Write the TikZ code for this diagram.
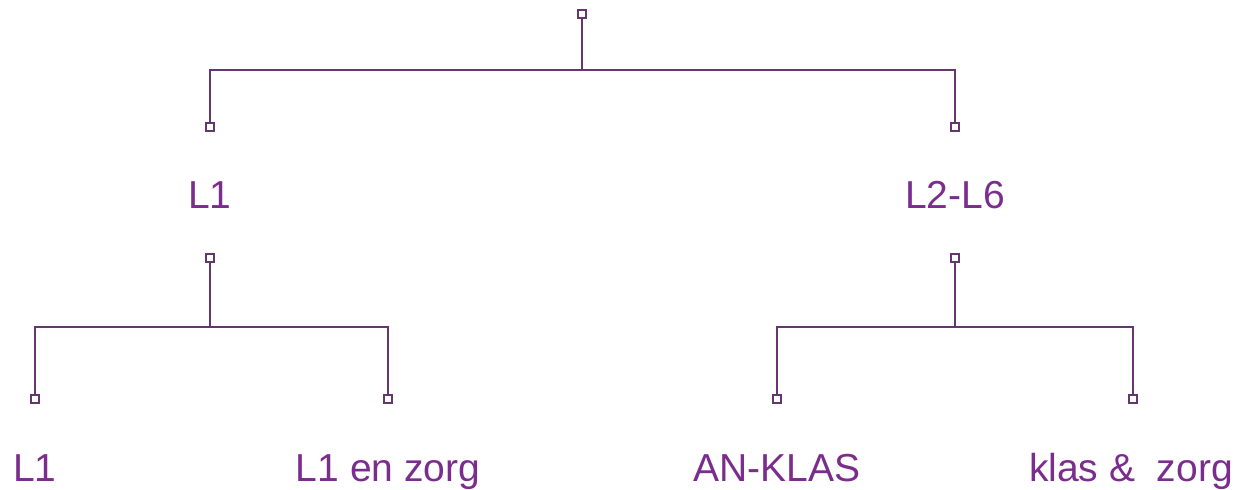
\documentclass[tikz,border=0pt]{standalone}
\usepackage{fontspec}
\setmainfont{Liberation Sans}
\definecolor{linecol}{HTML}{64386F}
\definecolor{textcol}{HTML}{7A2D8C}
\begin{document}
\begin{tikzpicture}[x=0.5pt,y=-0.5pt,
  pin/.style={draw=linecol,fill=white,line width=0.9pt,rectangle,minimum size=3.8pt,inner sep=0pt},
  lbl/.style={text=textcol,font=\fontsize{19.5}{22}\selectfont,inner sep=0pt,anchor=base},
  conn/.style={draw=linecol,line width=1.2pt}]
\useasboundingbox (0,0) rectangle (1239,489);
% pins
\node[pin] (s0) at (582,14) {};
\node[pin] (sL) at (210,127) {};
\node[pin] (sR) at (955,127) {};
\node[pin] (tL) at (210,258) {};
\node[pin] (tR) at (955,258) {};
\node[pin] (a1) at (35,399) {};
\node[pin] (a2) at (388,399) {};
\node[pin] (b1) at (777,399) {};
\node[pin] (b2) at (1133,399) {};
% junctions
\coordinate (j0) at (582,70);
\coordinate (jL) at (210,327);
\coordinate (jR) at (955,327);
% labels
\node[lbl] (L1) at (210,208) {L1};
\node[lbl] (L26) at (955,208) {L2-L6};
\node[lbl] (n1) at (35,481) {L1};
\node[lbl] (n2) at (388,481) {L1 en zorg};
\node[lbl] (n3) at (777,481) {AN-KLAS};
\node[lbl] (n4) at (1131,481) {klas \&~ zorg};
% connectors
\draw[conn] (s0.south) -- (j0);
\draw[conn] (sL.north) |- (j0) -| (sR.north);
\draw[conn] (tL.south) -- (jL);
\draw[conn] (a1.north) |- (jL) -| (a2.north);
\draw[conn] (tR.south) -- (jR);
\draw[conn] (b1.north) |- (jR) -| (b2.north);
\end{tikzpicture}
\end{document}
